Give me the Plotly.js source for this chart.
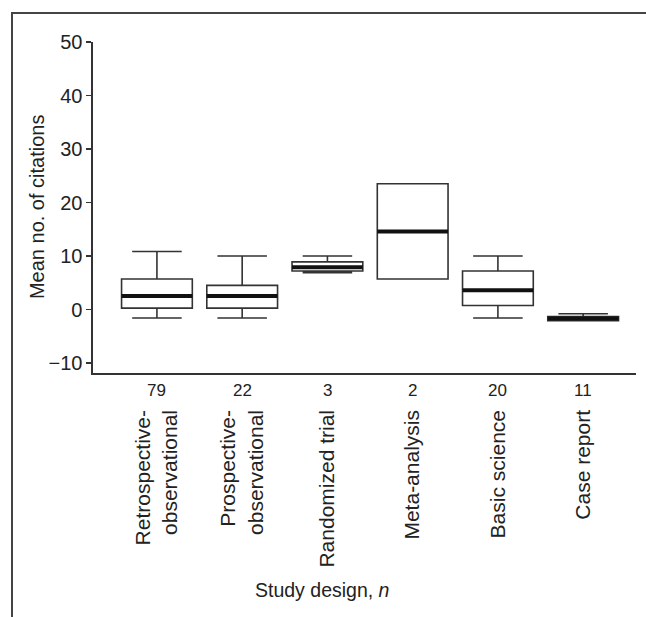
<!DOCTYPE html>
<html>
<head>
<meta charset="utf-8">
<script src="https://cdn.plot.ly/plotly-3.0.1.min.js"></script>
<style>
  html, body { margin: 0; padding: 0; background: #fff; }
  #wrap { position: relative; width: 646px; height: 617px; overflow: hidden; }
  #chart { position: absolute; left: 0; top: 0; width: 646px; height: 617px; }
  #frame { position: absolute; left: 11px; top: 12px; width: 640px; height: 610px;
           border-left: 2px solid #444; border-top: 2px solid #444; pointer-events: none; }
</style>
</head>
<body>
<div id="wrap">
  <div id="chart"></div>
  <div id="frame"></div>
</div>
<script>
// ---- data ----
const categories = ['Retrospective-<br>observational', 'Prospective-<br>observational',
                    'Randomized trial', 'Meta-analysis', 'Basic science', 'Case report'];
const counts     = [79, 22, 3, 2, 20, 11];
const lowerFence = [-1.6, -1.6, 6.9, 5.7, -1.6, -2.1];
const q1Values   = [0.25, 0.25, 7.2, 5.7, 0.75, -2.1];
const medians    = [2.5, 2.5, 7.9, 14.6, 3.6, -1.7];
const q3Values   = [5.7, 4.5, 8.9, 23.5, 7.2, -1.3];
const upperFence = [10.85, 10.0, 10.0, 23.5, 10.0, -0.8];
const yTicks     = [-10, 0, 10, 20, 30, 40, 50];

// ---- styling ----
const FONT = '"Liberation Sans", Arial, Helvetica, sans-serif';
const TXT = '#222';
const LINE = '#333';
const BOXW = 0.83;

const traces = [];
categories.forEach((c, i) => {
  traces.push({
    type: 'box',
    x: [i],
    q1: [q1Values[i]],
    median: [medians[i]],
    q3: [q3Values[i]],
    lowerfence: [lowerFence[i]],
    upperfence: [upperFence[i]],
    width: BOXW,
    whiskerwidth: 0.7,
    fillcolor: 'rgba(255,255,255,0)',
    line: { color: LINE, width: 1.6 },
    boxpoints: false,
    showlegend: false,
    hoverinfo: 'skip'
  });
});
// thick median bars
categories.forEach((c, i) => {
  traces.push({
    type: 'scatter', mode: 'lines',
    x: [i - BOXW / 2, i + BOXW / 2],
    y: [medians[i], medians[i]],
    line: { color: '#111', width: 4 },
    showlegend: false, hoverinfo: 'skip'
  });
});

const annotations = counts.map((n, i) => ({
  x: i, xref: 'x', y: -0.053, yref: 'paper',
  text: String(n), showarrow: false,
  xanchor: 'center', yanchor: 'middle',
  font: { family: FONT, size: 17, color: TXT }
}));
annotations.push({
  x: 0.4217, xref: 'paper', y: -0.655, yref: 'paper',
  text: 'Study design, <i>n</i>', showarrow: false,
  xanchor: 'center', yanchor: 'middle',
  font: { family: FONT, size: 19.5, color: TXT }
});
annotations.push({
  x: -0.103, xref: 'paper', y: 0.5015, yref: 'paper',
  text: 'Mean no. of citations', showarrow: false, textangle: -90,
  xanchor: 'center', yanchor: 'middle',
  font: { family: FONT, size: 20, color: TXT }
});

const layout = {
  width: 646, height: 617,
  margin: { l: 93, r: 10, t: 42, b: 244 },
  paper_bgcolor: '#fff', plot_bgcolor: '#fff',
  showlegend: false,
  font: { family: FONT, color: TXT, size: 20 },
  xaxis: {
    type: 'linear',
    range: [-0.75, 5.62],
    tickmode: 'array',
    tickvals: categories.map((c, i) => i),
    ticktext: categories,
    tickangle: -90,
    ticks: '',
    ticklabelstandoff: 27,
    showgrid: false, zeroline: false,
    showline: true, linecolor: LINE, linewidth: 1.6,
    tickfont: { family: FONT, size: 21, color: TXT },
    automargin: false
  },
  yaxis: {
    range: [-11.87, 50],
    tickmode: 'array',
    tickvals: yTicks,
    ticktext: yTicks.map(v => v < 0 ? '\u2212' + Math.abs(v) : String(v)),
    ticks: 'outside', ticklen: 5, tickwidth: 1.4, tickcolor: LINE,
    showgrid: false, zeroline: false,
    showline: true, linecolor: LINE, linewidth: 1.6,
    tickfont: { family: FONT, size: 20, color: TXT },
    automargin: false
  },
  annotations: annotations
};

Plotly.newPlot('chart', traces, layout, { displayModeBar: false, staticPlot: true });
</script>
</body>
</html>
